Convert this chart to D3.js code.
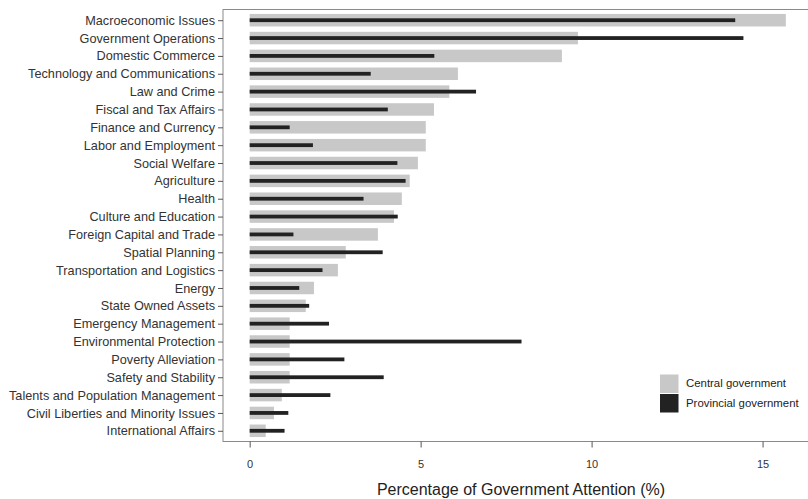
<!DOCTYPE html>
<html>
<head>
<meta charset="utf-8">
<script src="https://cdn.jsdelivr.net/npm/d3@7"></script>
<style>
  body { margin: 0; background: #fff; }
  svg { display: block; font-family: "Liberation Sans", Arial, Helvetica, sans-serif; }
</style>
</head>
<body>
<svg id="chart" width="808" height="499"></svg>
<script>
// Policy areas, ordered by central-government attention
const categories = [
  "Macroeconomic Issues", "Government Operations", "Domestic Commerce",
  "Technology and Communications", "Law and Crime", "Fiscal and Tax Affairs",
  "Finance and Currency", "Labor and Employment", "Social Welfare", "Agriculture",
  "Health", "Culture and Education", "Foreign Capital and Trade", "Spatial Planning",
  "Transportation and Logistics", "Energy", "State Owned Assets",
  "Emergency Management", "Environmental Protection", "Poverty Alleviation",
  "Safety and Stability", "Talents and Population Management",
  "Civil Liberties and Minority Issues", "International Affairs"
];

// Share of attention (%)
const centralValues = [
  15.68, 9.60, 9.13, 6.09, 5.84, 5.39, 5.15, 5.15, 4.92, 4.68, 4.45, 4.22,
  3.75, 2.81, 2.58, 1.88, 1.64, 1.17, 1.17, 1.17, 1.17, 0.94, 0.71, 0.47
];
const provincialValues = [
  14.20, 14.44, 5.40, 3.54, 6.62, 4.04, 1.17, 1.85, 4.32, 4.56, 3.33, 4.33,
  1.28, 3.89, 2.13, 1.45, 1.74, 2.32, 7.95, 2.77, 3.92, 2.36, 1.13, 1.02
];

const xTicks = [0, 5, 10, 15];
const seriesNames = ["Central government", "Provincial government"];
const seriesColors = ["#c8c8c8", "#222222"];

const svg = d3.select("#chart");
const panel = { left: 223, right: 812.5, top: 9.5, bottom: 441.5 };

const x = d3.scaleLinear().domain([-0.78, 16.46]).range([panel.left, panel.right]);
const y = d3.scalePoint().domain(categories).range([panel.top, panel.bottom]).padding(0.6);

const rows = categories.map((c, i) => ({ cat: c, central: centralValues[i], provincial: provincialValues[i] }));

// Panel frame
svg.append("rect")
  .attr("x", panel.left).attr("y", panel.top)
  .attr("width", panel.right - panel.left).attr("height", panel.bottom - panel.top)
  .attr("fill", "none").attr("stroke", "#8a8a8a").attr("stroke-width", 1);

// Central government bars (wide, light)
const wideH = 12.5, thinH = 3.8;
svg.append("g").selectAll("rect").data(rows).join("rect")
  .attr("x", x(0))
  .attr("y", d => y(d.cat) - wideH / 2)
  .attr("width", d => x(d.central) - x(0))
  .attr("height", wideH)
  .attr("fill", seriesColors[0]);

// Provincial government bars (thin, dark)
svg.append("g").selectAll("rect").data(rows).join("rect")
  .attr("x", x(0))
  .attr("y", d => y(d.cat) - thinH / 2)
  .attr("width", d => x(d.provincial) - x(0))
  .attr("height", thinH)
  .attr("fill", seriesColors[1]);

// Y axis
const yAxis = svg.append("g")
  .attr("transform", `translate(${panel.left},0)`)
  .call(d3.axisLeft(y).tickSize(5).tickPadding(3));
yAxis.select(".domain").remove();
yAxis.selectAll(".tick line").attr("stroke", "#555");
yAxis.selectAll(".tick text")
  .attr("fill", "#333").style("font-size", "12.7px")
  .style("font-family", "'Liberation Sans', Arial, sans-serif");

// X axis
const xAxis = svg.append("g")
  .attr("transform", `translate(0,${panel.bottom})`)
  .call(d3.axisBottom(x).tickValues(xTicks).tickFormat(d3.format("d")).tickSize(6).tickPadding(13));
xAxis.select(".domain").remove();
xAxis.selectAll(".tick line").attr("stroke", "#555");
xAxis.selectAll(".tick text")
  .attr("fill", "#333").style("font-size", "11px")
  .style("font-family", "'Liberation Sans', Arial, sans-serif");

svg.append("text")
  .attr("x", 521)
  .attr("y", 491)
  .attr("text-anchor", "middle")
  .attr("dominant-baseline", "middle")
  .attr("fill", "#222")
  .style("font-size", "16px")
  .text("Percentage of Government Attention (%)");

// Legend
const legend = svg.append("g").attr("transform", "translate(660,374.5)");
seriesNames.forEach((name, i) => {
  const g = legend.append("g").attr("transform", `translate(0,${i * 19.5})`);
  g.append("rect").attr("width", 18.5).attr("height", 18.5).attr("fill", seriesColors[i]);
  g.append("text")
    .attr("x", 26).attr("y", 9.5)
    .attr("dominant-baseline", "middle")
    .attr("fill", "#222")
    .style("font-size", "11.4px")
    .text(name);
});
</script>
</body>
</html>
